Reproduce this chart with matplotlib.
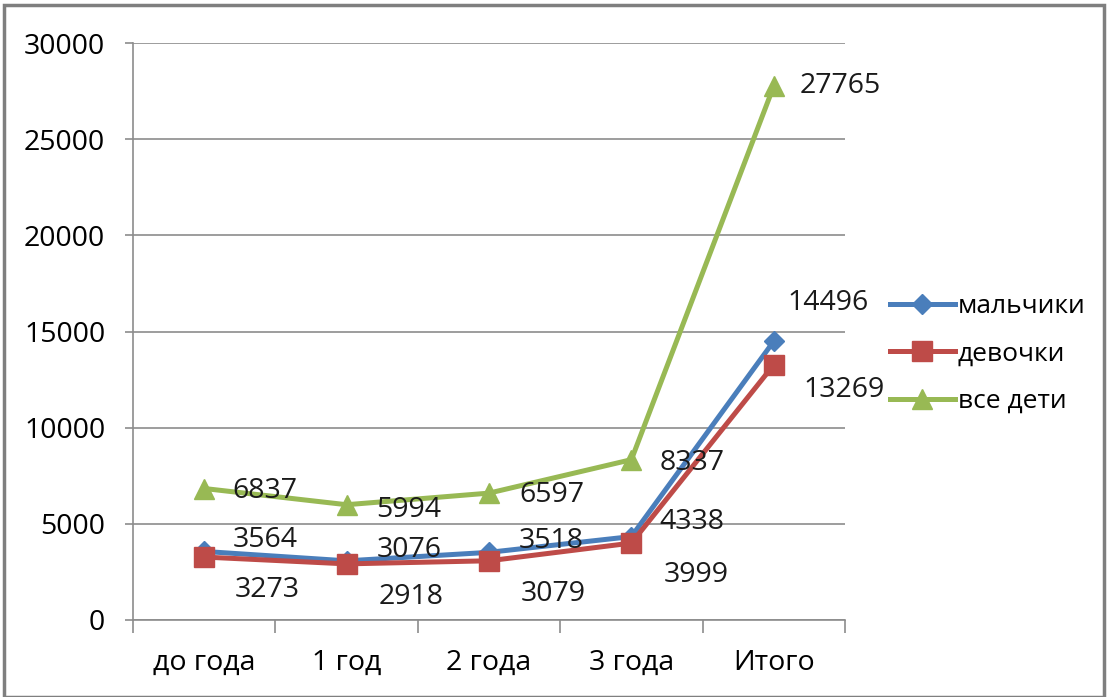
import matplotlib.pyplot as plt
from matplotlib.patches import Rectangle
import numpy as np

categories = ["до года", "1 год", "2 года", "3 года", "Итого"]
boys = [3564, 3076, 3518, 4338, 14496]
girls = [3273, 2918, 3079, 3999, 13269]
all_kids = [6837, 5994, 6597, 8337, 27765]
series_names = ["мальчики", "девочки", "все дети"]

plt.rcParams['font.family'] = ['Open Sans', 'DejaVu Sans']

fig = plt.figure(figsize=(11.11, 6.97), dpi=100)
ax = fig.add_axes([133 / 1111, 1 - 620 / 697, 712 / 1111, 577 / 697])

x = np.arange(len(categories))
grey = "#8c8c8c"

ax.plot(x, boys, color="#4A7EBB", lw=3.6, marker="D", ms=10, label=series_names[0])
ax.plot(x, girls, color="#BE4B48", lw=3.6, marker="s", ms=15, label=series_names[1])
ax.plot(x, all_kids, color="#98B954", lw=3.6, marker="^", ms=15, label=series_names[2])

# data labels, offsets in pixels
fs = 20.5
boys_off = [(28, 11), (30, 11), (30, 11), (28, 15), (14, 38)]
girls_off = [(30, -33), (32, -33), (32, -33), (32, -32), (30, -25)]
all_off = [(28, -2), (30, -5), (30, -2), (28, -3), (26, 0)]
for vals, offs in [(boys, boys_off), (girls, girls_off), (all_kids, all_off)]:
    for xi, v, (dx, dy) in zip(x, vals, offs):
        ax.annotate(str(v), (xi, v), xytext=(dx, dy), textcoords="offset pixels",
                    ha="left", va="center", fontsize=fs, color="#1a1a1a")

ax.set_xlim(-0.5, 4.5)
ax.set_ylim(0, 30000)
ax.set_yticks(range(0, 30001, 5000))
ax.set_xticks(x)
ax.set_xticklabels(categories)
ax.set_xticks(np.arange(-0.5, 5, 1), minor=True)
ax.tick_params(axis="x", which="major", length=0, pad=21, labelsize=fs)
ax.tick_params(axis="x", which="minor", length=9, color=grey, width=1.2)
ax.tick_params(axis="y", length=6, color=grey, width=1.2, pad=14, labelsize=fs)
ax.grid(axis="y", color=grey, lw=1.2)
ax.set_axisbelow(True)
for s in ["top", "right"]:
    ax.spines[s].set_visible(False)
for s in ["left", "bottom"]:
    ax.spines[s].set_color(grey)
    ax.spines[s].set_linewidth(1.2)

ax.legend(loc="center left", bbox_to_anchor=(1.063, 0.461), frameon=False,
          borderpad=0, borderaxespad=0, fontsize=19, handlelength=2.45,
          labelspacing=0.85, handletextpad=0.12)

# outer chart border
fig.patches.append(Rectangle((4 / 1111, 0), 1100 / 1111, 692 / 697,
                             transform=fig.transFigure, fill=False,
                             edgecolor="#7f7f7f", lw=2.5))

fig.savefig("out.png", dpi=100)
